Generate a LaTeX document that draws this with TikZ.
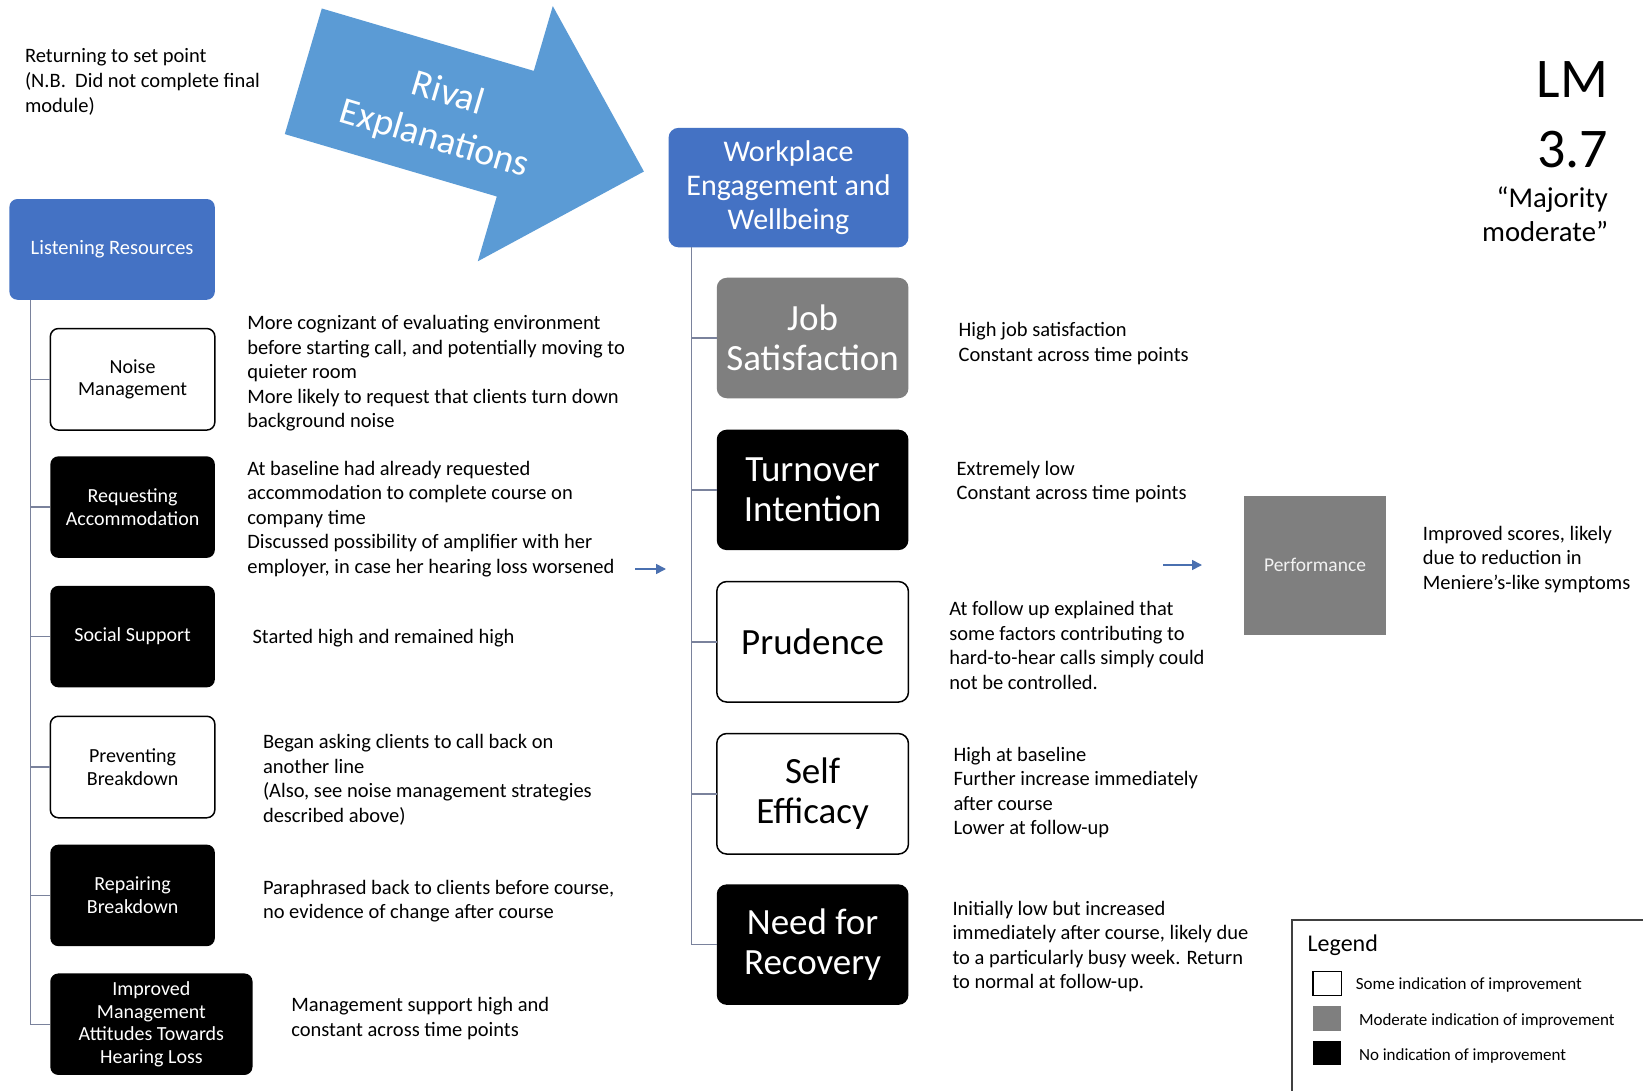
\documentclass[tikz,border=0pt]{standalone}
\usepackage{fontspec}
\setmainfont{Carlito}
\usetikzlibrary{arrows.meta}

\definecolor{boxblue}{HTML}{4472C4}
\definecolor{arrowblue}{HTML}{5B9BD5}
\definecolor{pointblue}{HTML}{4A70B0}
\definecolor{midgray}{HTML}{7F7F7F}
\definecolor{linkgray}{HTML}{7A829C}

% multi-line text block whose base anchor sits on the first baseline
\newcommand{\txtlines}[1]{\begin{tabular}[t]{@{}l@{}}#1\end{tabular}}
\newcommand{\txtlinesr}[1]{\begin{tabular}[t]{@{}r@{}}#1\end{tabular}}

\tikzset{
  every node/.style={inner sep=0pt, outer sep=0pt},
  body/.style={anchor=base west, font=\fontsize{20.5}{24.6}\selectfont, text=black},
  leftbox/.style={rounded corners=8pt, minimum width=164.5pt, minimum height=101.5pt,
    align=center, font=\fontsize{20}{22.5}\selectfont},
  rightbox/.style={rounded corners=10pt, minimum width=191.7pt, minimum height=120.5pt,
    align=center, font=\fontsize{37}{40}\selectfont},
  darkbox/.style={fill=black, text=white},
  lightbox/.style={fill=white, draw=black, line width=1.5pt, text=black},
  greybox/.style={fill=midgray, text=white},
  bluebox/.style={fill=boxblue, text=white},
  link/.style={draw=linkgray, line width=1.4pt},
  pointer/.style={draw=pointblue, line width=1.6pt, -{Triangle[length=10pt,width=10pt]}},
  legendtxt/.style={anchor=base west, font=\fontsize{17}{19}\selectfont, text=black},
}

\begin{document}
\begin{tikzpicture}[x=1pt, y=-1pt]
  \useasboundingbox[fill=white] (0,0) rectangle (1643,1091);

  % big block arrow
  \fill[arrowblue] (321.8,8.5) -- (533.8,70.9) -- (552.8,6.1) -- (643.9,171.5)
    -- (477.8,261.3) -- (496.8,196.5) -- (284.8,134.1) -- cycle;
  \node[rotate=-16.6, text=white, align=center, font=\fontsize{38}{47}\selectfont]
    (rival) at (441,117) {Rival\\Explanations};

  % note at top left
  \node[body] (setpoint) at (25,63)
    {\txtlines{Returning to set point\\(N.B.~ Did not complete final\\module)}};

  % participant label
  \node[anchor=base east, font=\fontsize{56}{60}\selectfont] (lm) at (1608,97.6) {LM};
  \node[anchor=base east, font=\fontsize{56}{60}\selectfont] (score) at (1608,167.4) {3.7};
  \node[anchor=base east, font=\fontsize{28.7}{33.5}\selectfont] (verdict) at (1608,208)
    {\txtlinesr{“Majority\\moderate”}};

  % left hierarchy
  \node[bluebox, rounded corners=8pt, minimum width=205.4pt, minimum height=100.7pt,
    font=\fontsize{20.5}{23}\selectfont] (listen) at (112.1,249.4) {Listening Resources};
  \node[leftbox, lightbox] (noise) at (132.6,379.3) {Noise\\Management};
  \node[leftbox, darkbox] (req) at (132.6,507.1) {Requesting\\Accommodation};
  \node[leftbox, darkbox] (social) at (132.6,636.6) {Social Support};
  \node[leftbox, lightbox] (prev) at (132.6,767) {Preventing\\Breakdown};
  \node[leftbox, darkbox] (repair) at (132.6,895.4) {Repairing\\Breakdown};
  \node[leftbox, darkbox, minimum width=202.2pt] (mgmt) at (151.4,1024.2)
    {Improved\\Management\\Attitudes Towards\\Hearing Loss};

  \coordinate (ltrunk) at (30.4,1024.2);
  \draw[link] (listen.south -| ltrunk) -- (ltrunk) -- (mgmt.west);
  \foreach \n in {noise,req,social,prev,repair}
    \draw[link] (\n.west -| ltrunk) -- (\n.west);

  % left descriptions
  \node[body] (noised) at (247.3,329.4) {\txtlines{More cognizant of evaluating environment\\
    before starting call, and potentially moving to\\quieter room\\
    More likely to request that clients turn down\\background noise}};
  \node[body] (reqd) at (247.3,475) {\txtlines{At baseline had already requested\\
    accommodation to complete course on\\company time\\
    Discussed possibility of amplifier with her\\
    employer, in case her hearing loss worsened}};
  \node[body] (sociald) at (252.5,643.7) {Started high and remained high};
  \node[body] (prevd) at (263,748.5) {\txtlines{Began asking clients to call back on\\
    another line\\(Also, see noise management strategies\\described above)}};
  \node[body] (repaird) at (263,894.1) {\txtlines{Paraphrased back to clients before course,\\
    no evidence of change after course}};
  \node[body] (mgmtd) at (291.3,1011.5) {\txtlines{Management support high and\\
    constant across time points}};

  \coordinate (p1s) at (635,569);
  \coordinate (p1e) at (666,569);
  \draw[pointer] (p1s) -- (p1e);

  % right hierarchy
  \node[bluebox, rounded corners=10pt, minimum width=239.9pt, minimum height=119.5pt,
    align=center, font=\fontsize{30}{34}\selectfont] (work) at (788.5,187.6)
    {Workplace\\Engagement and\\Wellbeing};
  \node[rightbox, greybox] (job) at (812.6,338) {Job\\Satisfaction};
  \node[rightbox, darkbox] (turn) at (812.6,489.9) {Turnover\\Intention};
  \node[rightbox, lightbox] (prud) at (812.6,641.8) {Prudence};
  \node[rightbox, lightbox] (self) at (812.6,793.8) {Self\\Efficacy};
  \node[rightbox, darkbox] (need) at (812.6,944.6) {Need for\\Recovery};

  \coordinate (rtrunk) at (691.6,944.6);
  \draw[link] (work.south -| rtrunk) -- (rtrunk) -- (need.west);
  \foreach \n in {job,turn,prud,self}
    \draw[link] (\n.west -| rtrunk) -- (\n.west);

  % right descriptions
  \node[body] (jobd) at (958.7,336.7) {\txtlines{High job satisfaction\\Constant across time points}};
  \node[body] (turnd) at (956.6,475) {\txtlines{Extremely low\\Constant across time points}};
  \node[body] (prudd) at (949.3,615.4) {\txtlines{At follow up explained that\\
    some factors contributing to\\hard-to-hear calls simply could\\not be controlled.}};
  \node[body] (selfd) at (953.5,761.1) {\txtlines{High at baseline\\
    Further increase immediately\\after course\\Lower at follow-up}};
  \node[body] (needd) at (952.5,915.1) {\txtlines{Initially low but increased\\
    immediately after course, likely due\\to a particularly busy week. Return\\
    to normal at follow-up.}};

  \coordinate (p2s) at (1163,565);
  \coordinate (p2e) at (1202,565);
  \draw[pointer] (p2s) -- (p2e);

  % performance
  \node[fill=midgray, minimum width=142.5pt, minimum height=139.4pt, text=white!95!black,
    font=\fontsize{19.5}{22}\selectfont] (perf) at (1315,565.3) {Performance};
  \node[body] (perfd) at (1422.9,540) {\txtlines{Improved scores, likely\\
    due to reduction in\\Meniere’s-like symptoms}};

  % legend
  \draw[draw=black!75, line width=1.5pt] (1292,920) rectangle (1660,1110);
  \node[anchor=base west, font=\fontsize{24}{28}\selectfont] (legtitle) at (1307.6,951) {Legend};
  \draw[fill=white, draw=black, line width=1.3pt] (1312.9,971.3) rectangle (1341.2,995.4);
  \fill[midgray] (1312.9,1005.9) rectangle (1341.2,1031);
  \fill[black] (1312.9,1040.5) rectangle (1341.2,1064.6);
  \node[legendtxt] (leg1) at (1355.9,989.6) {Some indication of improvement};
  \node[legendtxt] (leg2) at (1359,1025.3) {Moderate indication of improvement};
  \node[legendtxt] (leg3) at (1359,1060.9) {No indication of improvement};
\end{tikzpicture}
\end{document}
